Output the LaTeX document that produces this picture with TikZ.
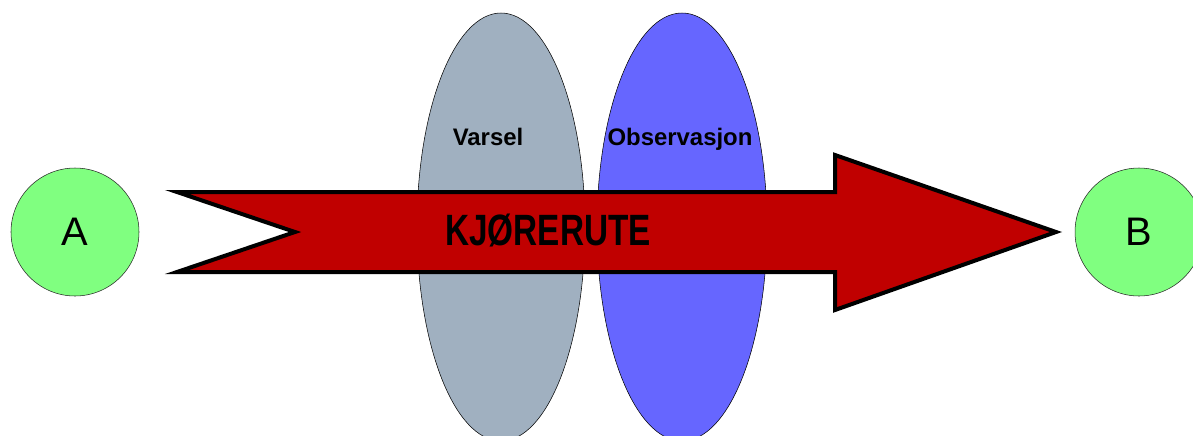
\documentclass[tikz,border=0pt]{standalone}
\usepackage{fontspec}
\setmainfont{Liberation Sans}
\usepackage{graphicx}
\usetikzlibrary{shapes.geometric}
\definecolor{endgreen}{RGB}{128,255,128}
\definecolor{varselgray}{RGB}{160,176,192}
\definecolor{obsblue}{RGB}{102,102,255}
\definecolor{routered}{RGB}{192,0,0}

\begin{document}
\begin{tikzpicture}[x=0.75bp, y=-0.75bp,
  EP/.style={circle, draw=black!85, fill=endgreen, minimum size=96bp, inner sep=0pt,
             font=\fontsize{30}{30}\selectfont},
  EL/.style={ellipse, draw=black, thin, minimum width=126bp, minimum height=321bp, inner sep=0pt},
  LB/.style={anchor=base, font=\fontsize{18}{21}\selectfont\bfseries},
  RT/.style={draw=black, line width=3bp, fill=routered, line join=miter}
]
  \clip (0,0) rectangle (1193,435);
  \node[EP] (a) at (75,232) {A};
  \node[EP] (b) at (1139,232) {B};
  \node[EL, fill=varselgray] (varsel) at (501,227) {};
  \node[EL, fill=obsblue, minimum width=127.5bp] (obs) at (682,227) {};
  \node[LB] (varselLbl) at (488,145) {Varsel};
  \node[LB] (obsLbl) at (680,145) {Observasjon};

  \draw[RT] (177,192) -- (835,192) -- (835,155) -- (1056,232) -- (835,310)
            -- (835,272) -- (177,272) -- (295,232) -- cycle;
  \node[anchor=base] (rute) at (548,245)
    {\fontsize{33}{36}\selectfont\bfseries\scalebox{0.76}[1]{KJØRERUTE}};
\end{tikzpicture}
\end{document}
